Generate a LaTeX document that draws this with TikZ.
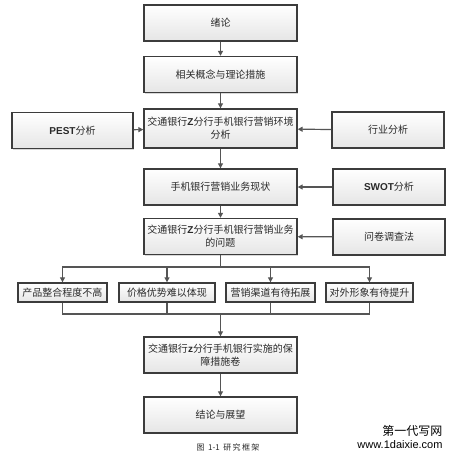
\documentclass[tikz,border=0pt]{standalone}
\usepackage{fontspec}
\setmainfont{Noto Sans CJK SC}
\newfontfamily\latinfont{Liberation Sans}
\usetikzlibrary{positioning,calc,arrows.meta,shadows}
\definecolor{boxline}{HTML}{3C3C3C}
\definecolor{arrowgray}{HTML}{555555}
\definecolor{textgray}{HTML}{2A2A2A}
\tikzset{
  mainbox/.style={draw=boxline, line width=1.4pt, top color=white, bottom color=black!10,
        drop shadow={shadow xshift=1.2pt, shadow yshift=-1.2pt, fill=black!30},
        minimum width=153pt, minimum height=36pt, align=center, inner sep=1pt,
        text=textgray, font=\fontsize{10}{13}\selectfont},
  sidebox/.style={mainbox, minimum width=112pt},
  smallbox/.style={mainbox, minimum height=19pt},
  flow/.style={-{Triangle[length=5pt,width=5pt]}, draw=arrowgray, line width=1.2pt},
  link/.style={draw=arrowgray, line width=1.2pt}
}
\newcommand{\lat}[1]{{\latinfont\bfseries #1}}

\begin{document}
\begin{tikzpicture}[x=1pt,y=-1pt]
\useasboundingbox (0,0) rectangle (455,459);
\fill[white] (0,0) rectangle (455,459);

% main column
\node[mainbox] (intro) at (220.5,23) {绪论};
\node[mainbox] (theory) at (220.5,74.5) {相关概念与理论措施};
\node[mainbox, minimum height=39pt] (envir) at (220.5,128.5) {交通银行\lat{Z}分行手机银行营销环境\\分析};
\node[mainbox] (status) at (220.5,187) {手机银行营销业务现状};
\node[mainbox] (problem) at (220.5,236.5) {交通银行\lat{Z}分行手机银行营销业务\\的问题};
\node[mainbox] (measure) at (220.5,355) {交通银行\lat{z}分行手机银行实施的保\\障措施卷};
\node[mainbox] (concl) at (220.5,415) {结论与展望};

% side inputs
\node[sidebox, minimum width=121pt] (pest) at (72.5,130.5) {\lat{PEST}分析};
\node[sidebox] (industry) at (388,130) {行业分析};
\node[sidebox] (swot) at (389,187) {\lat{SWOT}分析};
\node[sidebox] (survey) at (389,237) {问卷调查法};

% problem list
\node[smallbox, minimum width=89pt] (prod) at (62.5,292.5) {产品整合程度不高};
\node[smallbox, minimum width=96pt] (price) at (167,292.5) {价格优势难以体现};
\node[smallbox, minimum width=89pt] (channel) at (270.5,292.5) {营销渠道有待拓展};
\node[smallbox, minimum width=87pt] (image) at (369.5,292.5) {对外形象有待提升};

\coordinate (split) at (220.5,267);
\coordinate (merge) at (220.5,314);

\draw[flow] (intro) -- (theory);
\draw[flow] (theory) -- (envir);
\draw[flow] (envir) -- (status);
\draw[flow] (status) -- (problem);
\draw[flow] (pest) -- (envir);
\draw[flow] (industry) -- (envir);
\draw[flow] (swot) -- (status);
\draw[flow] (survey) -- (problem);

\draw[link] (problem.south) -- (split);
\draw[flow] (split) -| (prod.north);
\draw[flow] (split) -| (price.north);
\draw[flow] (split) -| (channel.north);
\draw[flow] (split) -| (image.north);
\draw[link] (prod.south) |- (merge);
\draw[link] (price.south) |- (merge);
\draw[link] (channel.south) |- (merge);
\draw[link] (image.south) |- (merge);
\draw[flow] (merge) -- (measure.north);
\draw[flow] (measure) -- (concl);

% caption and mark
\node[text=textgray, font=\fontsize{8}{10}\selectfont] (caption) at (228,447) {图\ \ 1-1\ \ 研\,究\,框\,架};
\node[anchor=east, font=\fontsize{12}{14}\selectfont] (markcn) at (446,431) {第一代写网};
\node[anchor=east, font=\latinfont\fontsize{11}{13}\selectfont] (markurl) at (446,445) {www.1daixie.com};
\end{tikzpicture}
\end{document}
